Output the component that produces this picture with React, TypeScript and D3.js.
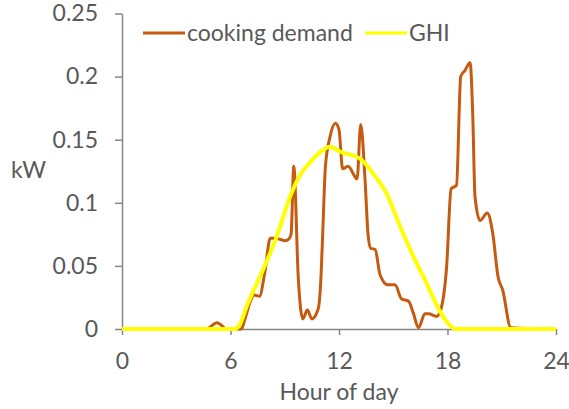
import { axisBottom, axisLeft, curveMonotoneX, line, scaleLinear, select } from "d3";
import { useEffect, useRef } from "react";

// cooking demand, kW, sampled at uneven hours
const demandHours = [
  0, 4.7, 5.0, 5.25, 5.5, 5.75, 6.6, 6.8, 7.1, 7.3, 7.6, 7.9, 8.2, 8.5, 9.0, 9.2, 9.35, 9.5, 9.75, 10.0,
  10.25, 10.5, 10.85, 11.0, 11.1, 11.25, 11.5, 11.8, 12.0, 12.2, 12.5, 13.0, 13.2, 13.45, 13.6, 13.75,
  14.0, 14.27, 14.7, 15.1, 15.45, 15.85, 16.1, 16.4, 16.75, 16.95, 17.4, 17.6, 17.95, 18.2, 18.5, 18.73,
  18.97, 19.25, 19.4, 19.52, 19.8, 20.2, 20.5, 20.8, 21.05, 21.5, 24,
];
const demandKw = [
  0, 0, 0.003, 0.005, 0.003, 0, 0, 0.008, 0.022, 0.027, 0.026, 0.045, 0.072, 0.072, 0.07, 0.071, 0.075,
  0.129, 0.04, 0.008, 0.015, 0.008, 0.016, 0.04, 0.076, 0.129, 0.152, 0.163, 0.158, 0.127, 0.129, 0.119,
  0.162, 0.116, 0.076, 0.064, 0.063, 0.043, 0.035, 0.035, 0.024, 0.022, 0.013, 0.001, 0.012, 0.012, 0.01,
  0.014, 0.049, 0.111, 0.114, 0.2, 0.205, 0.211, 0.168, 0.105, 0.086, 0.092, 0.076, 0.041, 0.031, 0.001, 0,
];

// global horizontal irradiance, scaled to kW
const ghiHours = [
  0, 6.25, 6.5, 6.9, 7.8, 8.55, 9.3, 9.85, 10.4, 10.95, 11.5, 12.06, 13.16, 13.9, 14.64, 15.3, 16.1, 16.95,
  17.5, 18.0, 18.45, 24,
];
const ghiKw = [
  0, 0, 0.003, 0.018, 0.047, 0.073, 0.105, 0.122, 0.132, 0.14, 0.1445, 0.1405, 0.135, 0.123, 0.107, 0.084,
  0.058, 0.033, 0.016, 0.005, 0, 0,
];

const hourTicks = [0, 6, 12, 18, 24];
const kwTicks = [0, 0.05, 0.1, 0.15, 0.2, 0.25];

const seriesNames = ["cooking demand", "GHI"];
const seriesColors = ["#C55A11", "#FFFF00"];

export default function App() {
  const ref = useRef<SVGSVGElement>(null);
  const width = 569;
  const height = 409;
  const margin = { top: 13.5, right: 13, bottom: 80, left: 122 };
  const innerW = width - margin.left - margin.right;
  const innerH = height - margin.top - margin.bottom;
  const font = "Lato, 'Open Sans', sans-serif";
  const fontSize = 23;
  const textColor = "#595959";
  const axisColor = "#868686";

  useEffect(() => {
    const svg = select(ref.current);
    svg.selectAll("*").remove();

    const x = scaleLinear().domain([0, 24]).range([0, innerW]);
    const y = scaleLinear().domain([0, 0.25]).range([innerH, 0]);

    const g = svg.append("g").attr("transform", `translate(${margin.left},${margin.top})`);

    const xAxis = g
      .append("g")
      .attr("transform", `translate(0,${innerH})`)
      .call(axisBottom(x).tickValues(hourTicks).tickSize(6).tickSizeOuter(0).tickPadding(17));
    const yAxis = g
      .append("g")
      .call(
        axisLeft(y)
          .tickValues(kwTicks)
          .tickSize(7)
          .tickSizeOuter(0)
          .tickPadding(17)
          .tickFormat((d) => String(+d)),
      );

    [xAxis, yAxis].forEach((a) => {
      a.selectAll("path").attr("stroke", axisColor).attr("stroke-width", 1.5);
      a.selectAll("line").attr("stroke", axisColor).attr("stroke-width", 1.5);
      a.selectAll("text").attr("fill", textColor).attr("font-family", font).attr("font-size", fontSize);
    });
    xAxis.selectAll("text").attr("dy", "0.72em");

    const demandLine = line<number>()
      .x((_, i) => x(demandHours[i]))
      .y((d) => y(d))
      .curve(curveMonotoneX);
    const ghiLine = line<number>()
      .x((_, i) => x(ghiHours[i]))
      .y((d) => y(d))
      .curve(curveMonotoneX);

    g.append("path")
      .attr("d", demandLine(demandKw))
      .attr("fill", "none")
      .attr("stroke", seriesColors[0])
      .attr("stroke-width", 3)
      .attr("stroke-linejoin", "round");
    g.append("path")
      .attr("d", ghiLine(ghiKw))
      .attr("fill", "none")
      .attr("stroke", seriesColors[1])
      .attr("stroke-width", 4)
      .attr("stroke-linejoin", "round");

    // axis titles
    svg
      .append("text")
      .attr("x", margin.left + innerW / 2)
      .attr("y", 400)
      .attr("text-anchor", "middle")
      .attr("fill", textColor)
      .attr("font-family", font)
      .attr("font-size", fontSize)
      .text("Hour of day");
    svg
      .append("text")
      .attr("x", 11)
      .attr("y", 178)
      .attr("fill", textColor)
      .attr("font-family", font)
      .attr("font-size", fontSize)
      .text("kW");

    // legend
    const legendX = [143, 365];
    seriesNames.forEach((name, i) => {
      const lg = svg.append("g").attr("transform", `translate(${legendX[i]},33)`);
      lg.append("line")
        .attr("x1", 0)
        .attr("x2", 42)
        .attr("stroke", seriesColors[i])
        .attr("stroke-width", 3);
      lg.append("text")
        .attr("x", 44)
        .attr("dy", "0.35em")
        .attr("fill", textColor)
        .attr("font-family", font)
        .attr("font-size", fontSize)
        .text(name);
    });
  }, []);

  return (
    <svg
      ref={ref}
      width={width}
      height={height}
      style={{ position: "absolute", left: 0, top: 0, background: "#fff" }}
    />
  );
}
